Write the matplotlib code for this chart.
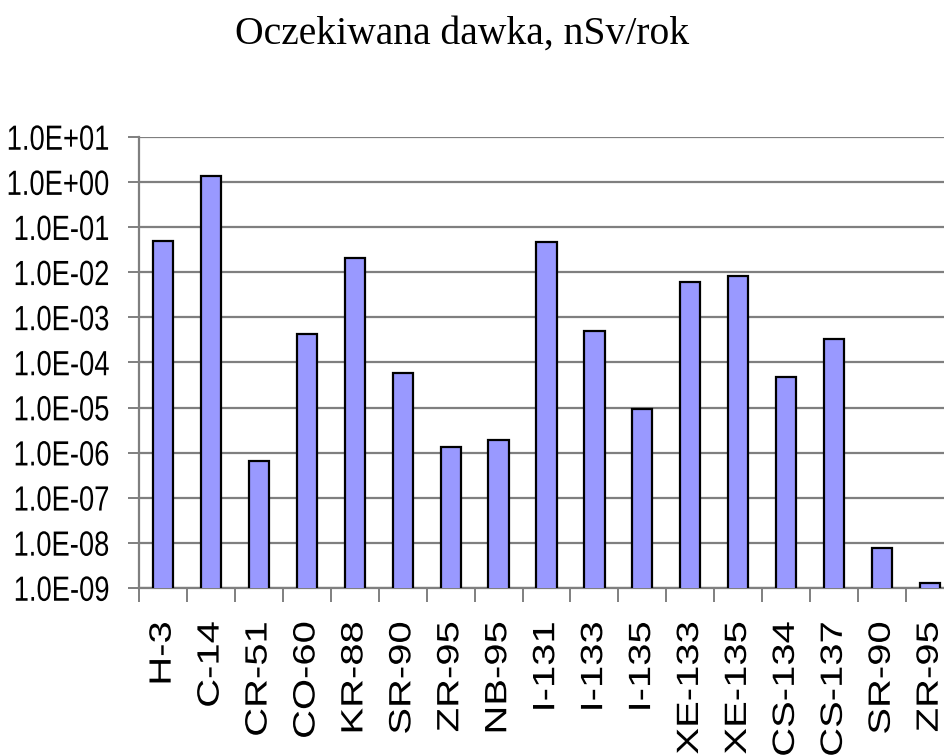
import matplotlib.pyplot as plt
import numpy as np
from matplotlib import patheffects
from matplotlib.ticker import FixedLocator, NullLocator
from matplotlib.transforms import Affine2D

# nuclide labels (SR-90 and ZR-95 appear twice in the source chart)
nuclides = ['H-3', 'C-14', 'CR-51', 'CO-60', 'KR-88', 'SR-90', 'ZR-95', 'NB-95',
            'I-131', 'I-133', 'I-135', 'XE-133', 'XE-135', 'CS-134', 'CS-137',
            'SR-90', 'ZR-95']
# expected dose, nSv/year
dose = [4.9e-2, 1.36, 6.6e-7, 4.3e-4, 2.1e-2, 5.9e-5, 1.35e-6, 1.9e-6,
        4.7e-2, 5.0e-4, 9.3e-6, 6.1e-3, 8.3e-3, 4.8e-5, 3.3e-4,
        7.8e-9, 1.3e-9]
ytick_vals = [1e1, 1e0, 1e-1, 1e-2, 1e-3, 1e-4, 1e-5, 1e-6, 1e-7, 1e-8, 1e-9]
ytick_labels = ['1.0E+01', '1.0E+00', '1.0E-01', '1.0E-02', '1.0E-03', '1.0E-04',
                '1.0E-05', '1.0E-06', '1.0E-07', '1.0E-08', '1.0E-09']

GRID = '#7f7f7f'


class Stretch(patheffects.AbstractPathEffect):
    """scale glyphs across the text line (about mid cap height), the source
    picture is squeezed so the labels look taller/narrower than Arial"""
    def __init__(self, k):
        super().__init__()
        self.k = k

    def draw_path(self, renderer, gc, tpath, affine, rgbFace=None):
        t = Affine2D().translate(0, -36).scale(1, self.k).translate(0, 36) + affine
        renderer.draw_path(gc, tpath, t, rgbFace)


fig = plt.figure(figsize=(9.44, 7.56), dpi=100)
ax = fig.add_axes([139/944, 168/756, 815/944, 451/756])

x = np.arange(len(nuclides))
ax.bar(x, dose, width=0.42, color='#9999ff', edgecolor='black', linewidth=1.6,
       zorder=3, bottom=0)
ax.set_yscale('log')
ax.set_ylim(1e-9, 1e1)
ax.set_xlim(-0.5, len(nuclides) - 0.5)

ax.yaxis.set_major_locator(FixedLocator(ytick_vals))
ax.yaxis.set_minor_locator(NullLocator())
ax.set_yticks(ytick_vals)
ax.set_yticklabels(ytick_labels, family='Liberation Sans', fontsize=19.7)
ax.grid(axis='y', color=GRID, linewidth=1.6, zorder=0)

# category ticks sit on the boundaries, labels on the centres
ax.set_xticks(x - 0.5)
ax.set_xticks(x, minor=True)
ax.set_xticklabels([])
ax.set_xticklabels(nuclides, minor=True, rotation=90, family='Liberation Sans',
                   fontsize=28.8, va='top', ha='center')
ax.tick_params(axis='x', which='minor', length=0, pad=24)
ax.tick_params(axis='x', which='major', length=10, width=1.4, color=GRID)
ax.tick_params(axis='y', length=8, width=1.4, color=GRID, pad=13)

for lbl in ax.get_yticklabels():
    lbl.set_path_effects([Stretch(1.28)])
for lbl in ax.get_xticklabels(minor=True):
    lbl.set_path_effects([Stretch(0.77)])

for s in ['top', 'right']:
    ax.spines[s].set_visible(False)
for s in ['left', 'bottom']:
    ax.spines[s].set_color(GRID)
    ax.spines[s].set_linewidth(1.6)

fig.text(462/944, 1 - 44/756, 'Oczekiwana dawka, nSv/rok', ha='center', va='baseline',
         family=['Liberation Serif', 'DejaVu Serif'], fontsize=28.5)

fig.savefig('out.png', dpi=100)
